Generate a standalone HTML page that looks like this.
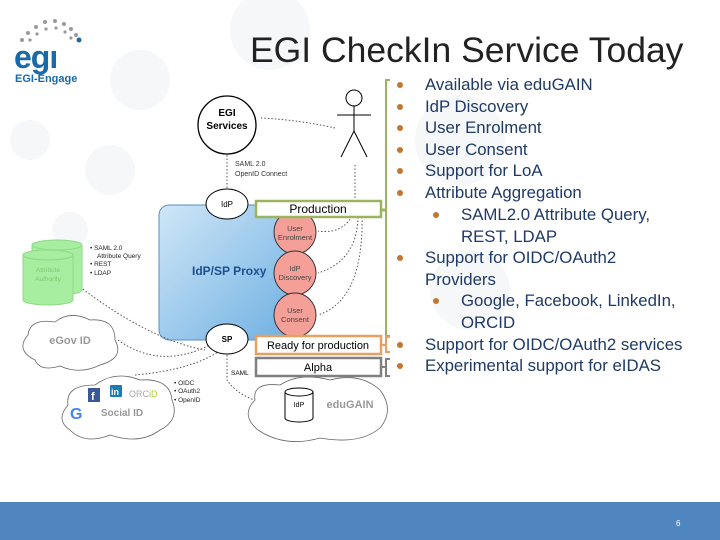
<!DOCTYPE html>
<html><head><meta charset="utf-8"><style>
html,body{margin:0;padding:0}
body{width:720px;height:540px;position:relative;overflow:hidden;background:#fff;font-family:"Liberation Sans",sans-serif}
.b{position:absolute;font-size:16.8px;color:#1f3a66;white-space:nowrap}
.d{position:absolute;width:6px;height:6px;border-radius:50%;background:#c07830}
</style></head><body>
<svg width="720" height="540" style="position:absolute;left:0;top:0" font-family="Liberation Sans, sans-serif">
<defs>
<linearGradient id="pg" x1="0" y1="0" x2="1" y2="1"><stop offset="0" stop-color="#cfe6f7"/><stop offset="1" stop-color="#6fb0e2"/></linearGradient>
</defs>
<g fill="#f6f7f9">
<circle cx="270" cy="30" r="40"/><circle cx="140" cy="80" r="30"/><circle cx="110" cy="170" r="25"/><circle cx="30" cy="140" r="20"/><circle cx="70" cy="230" r="18"/><circle cx="460" cy="140" r="45"/><circle cx="470" cy="290" r="40"/>
</g>
<g fill="#9a9a9a">
<circle cx="22" cy="40" r="2"/><circle cx="28" cy="33" r="2"/><circle cx="36" cy="27" r="2"/><circle cx="45" cy="22" r="2"/><circle cx="55" cy="21" r="2"/><circle cx="64" cy="24" r="2"/><circle cx="71" cy="29" r="2"/><circle cx="76" cy="35" r="2"/>
<circle cx="30" cy="40" r="1.6"/><circle cx="37" cy="34" r="1.6"/><circle cx="46" cy="29" r="1.6"/><circle cx="56" cy="28" r="1.6"/><circle cx="65" cy="32" r="1.6"/><circle cx="71" cy="38" r="1.6"/>
</g>
<circle cx="79" cy="40" r="2.5" fill="#1a6aa8"/>
<text x="14" y="68" font-size="32" font-weight="bold" fill="#1a6aa8" letter-spacing="-1">egı</text>
<text x="15" y="82" font-size="11" font-weight="bold" fill="#1a6aa8">EGI-Engage</text>
<text x="250" y="62" font-size="35.5" fill="#222">EGI CheckIn Service Today</text>
<path d="M390,80 H386 V336 H390" fill="none" stroke="#9bb45e" stroke-width="2"/>
<path d="M382,210 H386" stroke="#9bb45e" stroke-width="3"/>
<path d="M390,337 H386 V352 H390 M382,345 H386" fill="none" stroke="#e6a060" stroke-width="2"/>
<path d="M390,359 H386 V376 H390 M382,367 H386" fill="none" stroke="#808080" stroke-width="2"/>
<rect x="159" y="205" width="134" height="135" rx="10" fill="url(#pg)" stroke="#5a8ec0"/>
<text x="192" y="275" font-size="12" font-weight="bold" fill="#1c4f8c">IdP/SP Proxy</text>
<path d="M295,232 V315" stroke="#2c4a80" stroke-width="1.5"/>
<g fill="#f4a098" stroke="#333" stroke-width="1">
<ellipse cx="295" cy="232" rx="21" ry="22"/><ellipse cx="295" cy="273" rx="21" ry="22"/><ellipse cx="295" cy="315" rx="21" ry="22"/>
</g>
<g font-size="7.5" fill="#444" text-anchor="middle">
<text x="295" y="231">User</text><text x="295" y="240">Enrolment</text>
<text x="295" y="271">IdP</text><text x="295" y="280">Discovery</text>
<text x="295" y="313">User</text><text x="295" y="322">Consent</text>
</g>
<circle cx="227" cy="125" r="29" fill="#fff" stroke="#000" stroke-width="1.3"/>
<text x="227" y="116" font-size="10" font-weight="bold" text-anchor="middle">EGI</text>
<text x="227" y="129" font-size="10" font-weight="bold" text-anchor="middle">Services</text>
<g stroke="#000" fill="none" stroke-width="1">
<circle cx="354" cy="98" r="8"/><path d="M354,106 V131 M337,115 H371 M354,131 L341,157 M354,131 L367,157"/>
</g>
<g stroke="#555" fill="none" stroke-dasharray="1.5,2" stroke-width="1">
<path d="M335,128 Q300,120 261,118"/>
<path d="M227,155 V190"/>
<path d="M355,165 V200"/>
<path d="M355,210 Q345,235 318,231"/>
<path d="M358,210 Q360,260 318,273"/>
<path d="M362,210 Q365,300 318,315"/>
<path d="M80,287 Q150,340 205,350"/>
<path d="M118,340 Q160,370 210,345"/>
<path d="M135,375 Q190,370 218,352"/>
<path d="M227,355 V380 Q240,400 280,407"/>
</g>
<text x="235" y="166" font-size="7" fill="#333">SAML 2.0</text>
<text x="235" y="176" font-size="7" fill="#333">OpenID Connect</text>
<ellipse cx="227" cy="204" rx="21" ry="15" fill="#fff" stroke="#000"/>
<text x="227" y="207" font-size="8" text-anchor="middle">IdP</text>
<ellipse cx="227" cy="339" rx="21" ry="15" fill="#fff" stroke="#000"/>
<text x="227" y="342" font-size="8" font-weight="bold" text-anchor="middle">SP</text>
<text x="231" y="375" font-size="6.5">SAML</text>
<g fill="#a8eea0" stroke="#8fd888">
<path d="M32,245 V290 A25,5 0 0 0 82,290 V245 Z"/><ellipse cx="57" cy="245" rx="25" ry="5"/>
<path d="M23,255 V300 A25,5 0 0 0 73,300 V255 Z"/><ellipse cx="48" cy="255" rx="25" ry="5"/>
</g>
<text x="48" y="272" font-size="6.5" fill="#7acb70" text-anchor="middle">Attribute</text>
<text x="48" y="281" font-size="6.5" fill="#7acb70" text-anchor="middle">Authority</text>
<g font-size="6.5" fill="#222">
<text x="90" y="250">• SAML 2.0</text><text x="97" y="258">Attribute Query</text><text x="90" y="266">• REST</text><text x="90" y="275">• LDAP</text>
<text x="174" y="385">• OIDC</text><text x="174" y="393">• OAuth2</text><text x="174" y="402">• OpenID</text>
</g>
<g fill="#fff" stroke="#666" stroke-width="0.8">
<path d="M35,360 Q15,350 28,335 Q30,318 55,322 Q70,310 90,320 Q115,318 115,340 Q125,358 100,365 Q80,375 60,366 Q40,372 35,360Z"/>
<path d="M70,430 Q55,420 68,405 Q65,385 95,385 Q115,370 140,380 Q170,378 172,400 Q180,420 160,430 Q140,445 110,435 Q85,445 70,430Z"/>
<path d="M258,430 Q240,415 255,400 Q252,382 280,385 Q300,372 330,380 Q360,372 380,390 Q395,410 380,428 Q360,445 320,438 Q285,448 258,430Z"/>
</g>
<text x="70" y="344" font-size="11" font-weight="bold" fill="#999" text-anchor="middle">eGov ID</text>
<text x="122" y="416" font-size="10" font-weight="bold" fill="#999" text-anchor="middle">Social ID</text>
<rect x="88" y="388" width="12" height="14" fill="#3b5998"/><text x="91" y="400" font-size="11" font-weight="bold" fill="#fff">f</text>
<rect x="110" y="385" width="12" height="12" fill="#1a7bb5" rx="1"/><text x="111" y="395" font-size="9" font-weight="bold" fill="#fff">in</text>
<text x="129" y="397" font-size="9" fill="#a6a6a6">ORC<tspan fill="#a6ce39">iD</tspan></text>
<text x="70" y="419" font-size="16" font-weight="bold" fill="#4285f4">G</text>
<path d="M285,392 V418 A14,4 0 0 0 313,418 V392 Z" fill="#fff" stroke="#000"/><ellipse cx="299" cy="392" rx="14" ry="4" fill="#fff" stroke="#000"/>
<text x="299" y="407" font-size="7" text-anchor="middle">IdP</text>
<text x="350" y="408" font-size="11" font-weight="bold" fill="#999" text-anchor="middle">eduGAIN</text>
<rect x="256" y="201" width="125" height="16" fill="#fff" stroke="#9bb45e" stroke-width="2.5"/>
<text x="318" y="213" font-size="12" text-anchor="middle">Production</text>
<rect x="256" y="336" width="125" height="18" fill="#fff" stroke="#e6a060" stroke-width="2.5"/>
<text x="318" y="349" font-size="11" text-anchor="middle">Ready for production</text>
<rect x="256" y="358" width="125" height="18" fill="#fff" stroke="#808080" stroke-width="2.5"/>
<text x="318" y="371" font-size="11" text-anchor="middle">Alpha</text>
<rect x="0" y="502" width="720" height="38" fill="#4f86c0"/>
<text x="676" y="526" font-size="8" fill="#fff">6</text>
</svg>
<div class="d" style="left:397px;top:82px"></div><div class="b" style="left:425px;top:75px">Available via eduGAIN</div>
<div class="d" style="left:397px;top:104px"></div><div class="b" style="left:425px;top:97px">IdP Discovery</div>
<div class="d" style="left:397px;top:125px"></div><div class="b" style="left:425px;top:118px">User Enrolment</div>
<div class="d" style="left:397px;top:147px"></div><div class="b" style="left:425px;top:140px">User Consent</div>
<div class="d" style="left:397px;top:168px"></div><div class="b" style="left:425px;top:161px">Support for LoA</div>
<div class="d" style="left:397px;top:190px"></div><div class="b" style="left:425px;top:183px">Attribute Aggregation</div>
<div class="d" style="left:433px;top:212px"></div><div class="b" style="left:461px;top:205px">SAML2.0 Attribute Query,</div>
<div class="b" style="left:461px;top:227px">REST, LDAP</div>
<div class="d" style="left:397px;top:255px"></div><div class="b" style="left:425px;top:248px">Support for OIDC/OAuth2</div>
<div class="b" style="left:425px;top:270px">Providers</div>
<div class="d" style="left:433px;top:298px"></div><div class="b" style="left:461px;top:291px">Google, Facebook, LinkedIn,</div>
<div class="b" style="left:461px;top:313px">ORCID</div>
<div class="d" style="left:397px;top:342px"></div><div class="b" style="left:425px;top:335px">Support for OIDC/OAuth2 services</div>
<div class="d" style="left:397px;top:363px"></div><div class="b" style="left:425px;top:356px">Experimental support for eIDAS</div>
</body></html>
